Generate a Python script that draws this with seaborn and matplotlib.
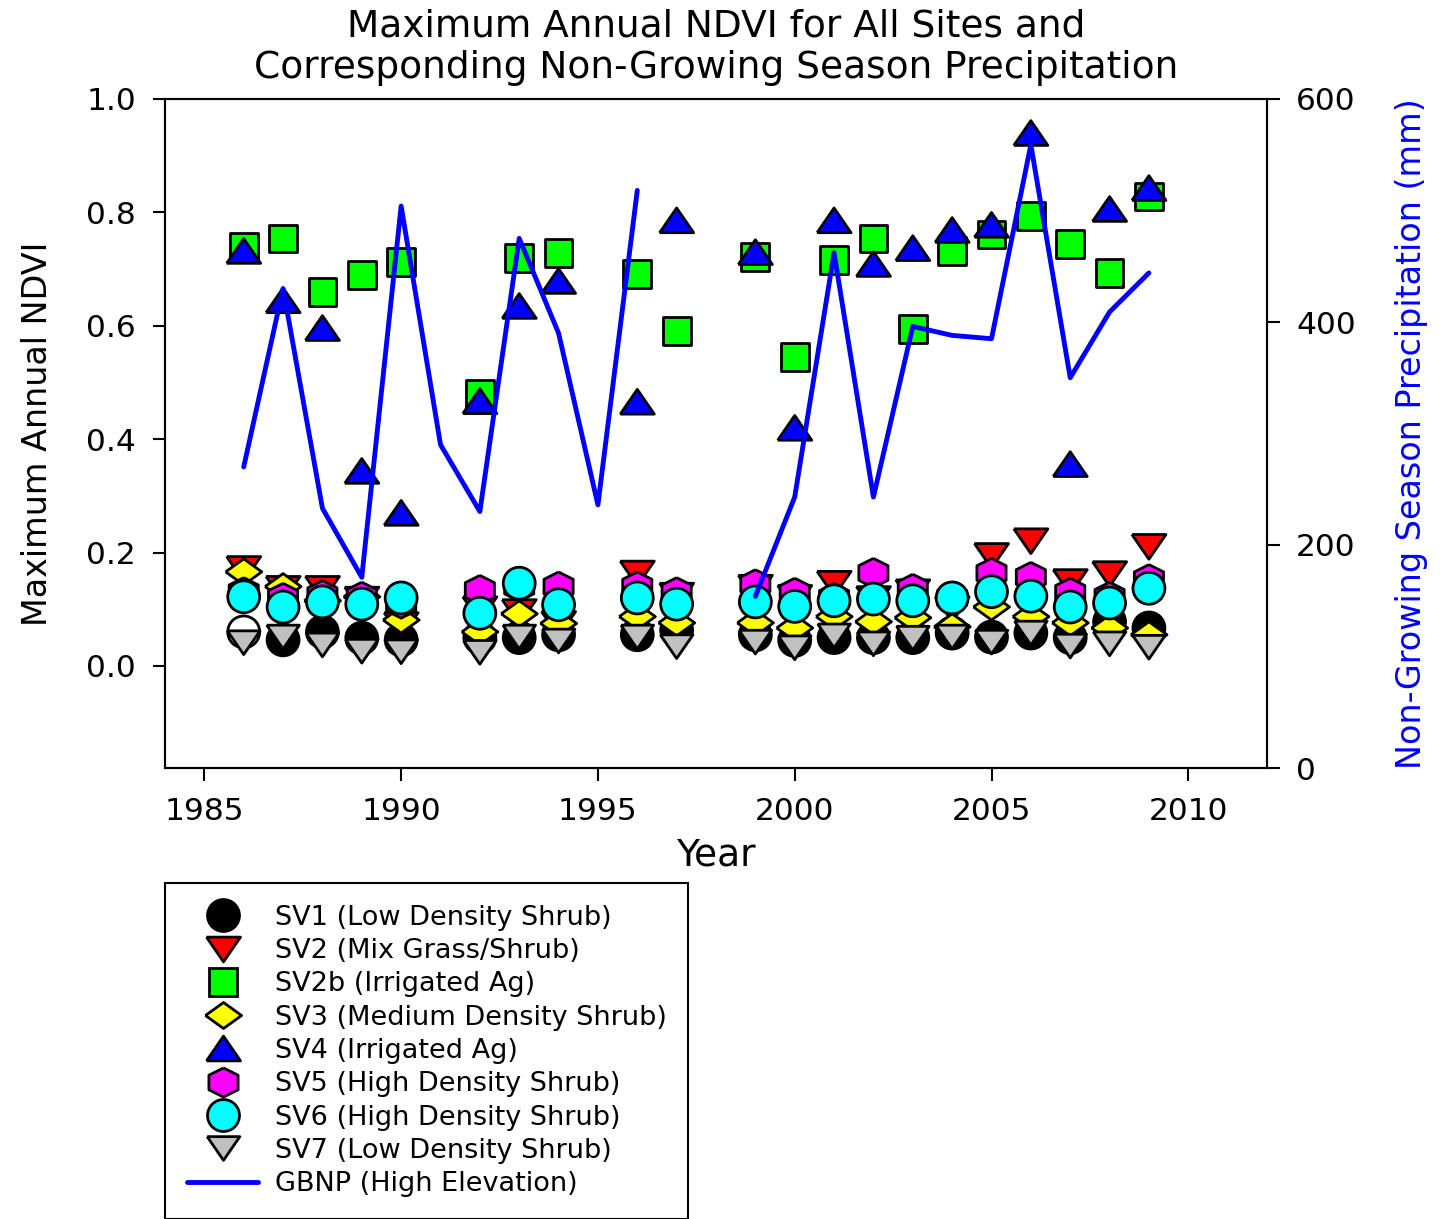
import matplotlib
matplotlib.use("Agg")
import matplotlib.pyplot as plt
from matplotlib.lines import Line2D
import seaborn as sns

# Dados
years = [1986, 1987, 1988, 1989, 1990, 1992, 1993, 1994, 1996, 1997, 1999,
         2000, 2001, 2002, 2003, 2004, 2005, 2006, 2007, 2008, 2009]

sv1 = [0.060, 0.046, 0.060, 0.049, 0.046, 0.050, 0.050, 0.055, 0.055, 0.063, 0.055,
       0.045, 0.050, 0.050, 0.050, 0.058, 0.051, 0.058, 0.050, 0.078, 0.067]
sv2 = [0.171, 0.136, 0.136, 0.117, 0.072, 0.100, 0.095, 0.074, 0.163, 0.124, 0.138,
       0.120, 0.145, 0.118, 0.130, 0.100, 0.194, 0.220, 0.148, 0.162, 0.210]
sv2b = [0.740, 0.754, 0.660, 0.690, 0.712, 0.479, 0.720, 0.729, 0.691, 0.591, 0.722,
        0.545, 0.716, 0.754, 0.594, 0.732, 0.761, 0.794, 0.744, 0.693, 0.828]
sv3 = [0.166, 0.140, 0.115, 0.122, 0.081, 0.060, 0.092, 0.075, 0.087, 0.076, 0.076,
       0.067, 0.087, 0.078, 0.085, 0.069, 0.104, 0.087, 0.076, 0.067, 0.055]
sv4 = [0.732, 0.645, 0.596, 0.344, 0.270, 0.467, 0.635, 0.679, 0.466, 0.786, 0.730,
       0.420, 0.786, 0.709, 0.737, 0.769, 0.778, 0.940, 0.356, 0.806, 0.843]
sv5 = [0.130, 0.120, 0.125, 0.122, 0.110, 0.134, 0.140, 0.140, 0.140, 0.130, 0.144,
       0.129, 0.120, 0.164, 0.136, 0.120, 0.164, 0.157, 0.129, 0.122, 0.153]
sv6 = [0.122, 0.104, 0.113, 0.109, 0.120, 0.093, 0.146, 0.108, 0.120, 0.109, 0.113,
       0.105, 0.115, 0.118, 0.115, 0.120, 0.131, 0.123, 0.104, 0.111, 0.137]
sv7 = [0.041, 0.051, 0.037, 0.026, 0.025, 0.024, 0.051, 0.044, 0.051, 0.034, 0.042,
       0.032, 0.053, 0.039, 0.049, 0.051, 0.042, 0.058, 0.035, 0.039, 0.033]

# Precipitação GBNP (mm), dois trechos (sem dados em 1997-1998)
precip_years_a = [1986, 1987, 1988, 1989, 1990, 1991, 1992, 1993, 1994, 1995, 1996]
precip_a = [270, 430, 233, 171, 504, 290, 230, 475, 390, 236, 518]
precip_years_b = [1999, 2000, 2001, 2002, 2003, 2004, 2005, 2006, 2007, 2008, 2009]
precip_b = [154, 243, 462, 243, 396, 388, 385, 559, 350, 409, 444]

labels = ["SV1 (Low Density Shrub)", "SV2 (Mix Grass/Shrub)", "SV2b (Irrigated Ag)",
          "SV3 (Medium Density Shrub)", "SV4 (Irrigated Ag)", "SV5 (High Density Shrub)",
          "SV6 (High Density Shrub)", "SV7 (Low Density Shrub)"]
line_label = "GBNP (High Elevation)"

# Marcadores no estilo SigmaPlot
TRI_UP = [(-1, -0.727), (1, -0.727), (0, 0.727), (-1, -0.727)]
TRI_DOWN = [(-1, 0.727), (1, 0.727), (0, -0.727), (-1, 0.727)]
DIAMOND = [(-1, 0), (0, 0.72), (1, 0), (0, -0.72), (-1, 0)]
HEXAGON = [(0, 1), (-1, 0.5), (-1, -0.5), (0, -1), (1, -0.5), (1, 0.5), (0, 1)]
BLUE = "#0000FF"
EDGE_W = 2.0

sns.set_theme(style="ticks")
plt.rcParams["font.family"] = ["DejaVu Sans"]
plt.rcParams["text.color"] = "black"
plt.rcParams["axes.labelcolor"] = "black"

W, H = 1441, 1219
fig = plt.figure(figsize=(W / 100, H / 100), dpi=100)
ax = fig.add_axes([165 / W, 1 - 768 / H, (1267 - 165) / W, (768 - 99) / H])
ax2 = ax.twinx()

series = [
    (sv1, "o", 23, "black"),
    (sv2, TRI_DOWN, 24.5, "#FF0000"),
    (sv2b, "s", 20, "#00FF00"),
    (sv3, DIAMOND, 26, "#FFFF00"),
    (sv4, TRI_UP, 24.5, BLUE),
    (sv5, HEXAGON, 21, "#FF00FF"),
    (sv6, "o", 23, "#00FFFF"),
    (sv7, TRI_DOWN, 23.5, "#C0C0C0"),
]

handles = []
for i, (vals, mk, size, col) in enumerate(series):
    # SV1 em 1986 aparece vazado no original
    face = ["white" if (i == 0 and y == 1986) else col for y in years]
    sns.scatterplot(x=years, y=vals, ax=ax, marker=mk, s=size ** 2, c=face,
                    edgecolor="black", linewidth=EDGE_W, zorder=3 + i, legend=False)
    handles.append(Line2D([], [], ls="none", marker=mk, markersize=size, markerfacecolor=col,
                          markeredgecolor="black", markeredgewidth=EDGE_W))

sns.lineplot(x=precip_years_a, y=precip_a, ax=ax2, color=BLUE, linewidth=3.5, legend=False)
sns.lineplot(x=precip_years_b, y=precip_b, ax=ax2, color=BLUE, linewidth=3.5, legend=False)
handles.append(Line2D([], [], color=BLUE, linewidth=3.5))

# Eixos
yt = [0.0, 0.2, 0.4, 0.6, 0.8, 1.0]
ax.set_xlim(1984, 2012)
ax.set_ylim(-0.18, 1.0)
ax.set_xticks([1985, 1990, 1995, 2000, 2005, 2010])
ax.set_yticks(yt)
ax.set_yticklabels([f"{v:.1f}" for v in yt])
ax2.set_ylim(0, 600)
ax2.set_yticks([0, 200, 400, 600])

for a in (ax, ax2):
    for sp in a.spines.values():
        sp.set_visible(True)
        sp.set_color("black")
        sp.set_linewidth(1.5)
    a.tick_params(direction="out", length=9, width=1.5, labelsize=22.5, pad=12, colors="black")

ax.set_xlabel("Year", fontsize=27, labelpad=8)
ax.set_ylabel("Maximum Annual NDVI", fontsize=24, labelpad=23)
ax2.set_ylabel("Non-Growing Season Precipitation (mm)", fontsize=24, color=BLUE, labelpad=28)
ax.set_title("Maximum Annual NDVI for All Sites and\nCorresponding Non-Growing Season Precipitation",
             fontsize=27, pad=15, linespacing=1.22)

leg = fig.legend(handles, labels + [line_label], loc="upper left",
                 bbox_to_anchor=(165 / W, 1 - 883 / H), borderaxespad=0, fontsize=19.5,
                 frameon=True, fancybox=False, edgecolor="black", framealpha=1,
                 handlelength=2.65, handletextpad=0.6, borderpad=0.8, labelspacing=0.27)
leg.get_frame().set_linewidth(1.5)

fig.savefig("out.png", dpi=100)
